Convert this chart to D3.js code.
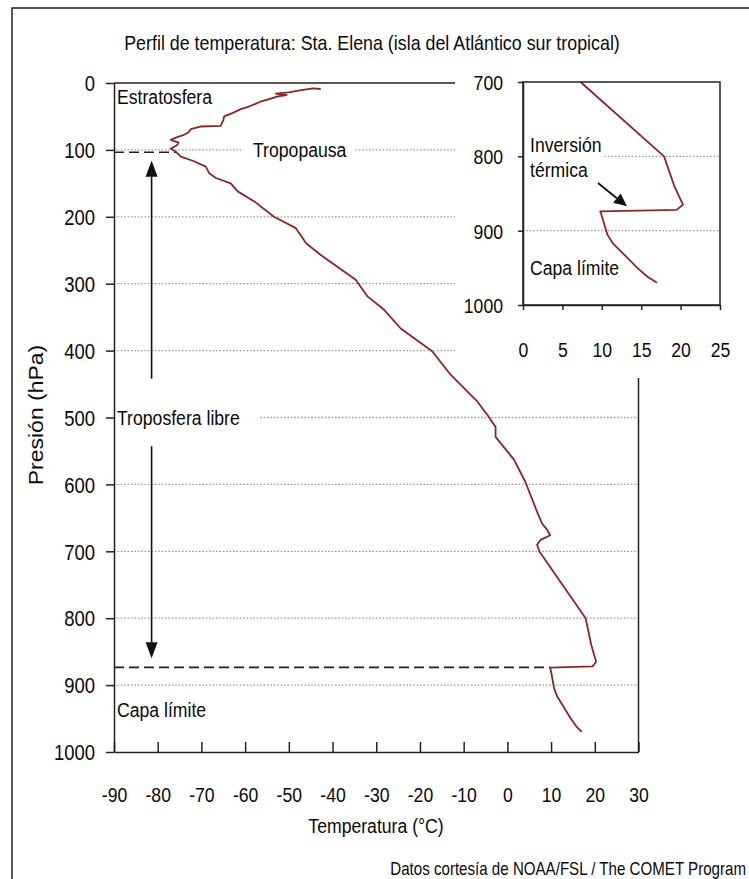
<!DOCTYPE html>
<html><head><meta charset="utf-8">
<script src="https://cdn.jsdelivr.net/npm/d3@7"></script>
<style>
body{margin:0;background:#fff}
text{font-family:"Liberation Sans",Arial,Helvetica,sans-serif;fill:#0a0a0a}
</style>
</head><body><svg id="c" width="749" height="879"></svg>
<script>
// ---- data ----
const pressure = [9, 8, 9.5, 11, 14, 16, 18, 20, 24, 28, 34, 36, 39, 45, 50, 56, 64, 65, 69, 74,
  78, 82, 85, 89, 93, 98, 103, 110, 117, 125, 135, 142, 150, 162, 177, 200, 217, 240, 257, 294,
  319, 339, 367, 401, 436, 476, 496, 514, 529, 563, 596, 641, 658, 668, 676, 683, 690, 700, 800, 840,
  865, 872, 874, 880, 905, 917, 935, 950, 962, 970];
const temperature = [-42.7, -44.5, -46, -47.5, -50, -53, -50.5, -52.5, -54.5, -56.5, -58.7, -59.5, -61, -62.9, -64.8, -65, -65.6, -70.1, -72.4, -73,
  -74.2, -76, -77, -75.2, -75.6, -77, -75.8, -74.7, -71.7, -69, -68.2, -66.7, -63.3, -61.7, -57.9, -53.4, -48.4, -46, -42.7, -34.7,
  -32, -28.2, -24.4, -17.2, -13, -6.9, -4.6, -2.7, -2.7, 1.5, 4.1, 6.8, 7.9, 9.1, 9.8, 7.6, 6.8, 7.3, 17.9, 19.2,
  20.3, 19.5, 9.8, 10, 10.7, 11.4, 13.1, 14.5, 15.8, 17];
const xTicks = [-90, -80, -70, -60, -50, -40, -30, -20, -10, 0, 10, 20, 30];
const yTicks = [0, 100, 200, 300, 400, 500, 600, 700, 800, 900, 1000];
const gridP = [100, 200, 300, 400, 500, 600, 700, 800, 900];
const insetXTicks = [0, 5, 10, 15, 20, 25];
const insetYTicks = [700, 800, 900, 1000];
const insetGridP = [800, 900];
const tropopause = {p: 103.6, t: -75.8};
const inversion = {p: 873.5, t: 9.8};
const arrowT = -81.4;

const profile = pressure.map((p, i) => ({p, t: temperature[i]}));
const fmt = d => String(d);

const svg = d3.select('#c');
svg.append('rect').attr('width', 749).attr('height', 879).attr('fill', '#fff');
svg.append('path').attr('d', 'M12,879V8H749').attr('fill', 'none').attr('stroke', '#222').attr('stroke-width', 1.5);

const SX = 0.84;
function label(g, x, y, s, o = {}) {
  const sx = o.sx || SX;
  const t = g.append('text')
    .attr('transform', `translate(${x},${y}) scale(${sx},1)`)
    .attr('font-size', o.size || 21)
    .attr('text-anchor', o.anchor || 'start')
    .text(s);
  t.node().__pos = {x, y, sx};
  return t;
}
function whiteBox(g, t, padL, padR, padT, padB) {
  const b = t.node().getBBox(); const q = t.node().__pos;
  g.insert('rect', () => t.node())
    .attr('x', q.x + b.x * q.sx - padL).attr('y', q.y + b.y - padT)
    .attr('width', b.width * q.sx + padL + padR).attr('height', b.height + padT + padB)
    .attr('fill', '#fff');
}

// ---- main chart ----
const x = d3.scaleLinear().domain([-90, 30]).range([114, 638.5]);
const y = d3.scaleLinear().domain([0, 1000]).range([83, 752]);

const main = svg.append('g');
main.selectAll('line.grid').data(gridP).join('line').attr('class', 'grid')
  .attr('x1', x(-90)).attr('x2', x(30)).attr('y1', d => y(d)).attr('y2', d => y(d))
  .attr('stroke', '#9a9a9a').attr('stroke-width', 1.3).attr('stroke-dasharray', '1.6,1.8');

const labels = main.append('g');
label(labels, 117, 104, 'Estratosfera');
const tropo = label(labels, 253, 157, 'Tropopausa');
whiteBox(labels, tropo, 12, 8, 0, 0);
const trl = label(labels, 117, 425, 'Troposfera libre');
whiteBox(labels, trl, 2, 19, 0, 0);
label(labels, 117, 717, 'Capa límite');

// dashed reference lines
[tropopause, inversion].forEach(r => {
  main.append('line').attr('x1', x(-90)).attr('x2', x(r.t)).attr('y1', y(r.p)).attr('y2', y(r.p))
    .attr('stroke', '#222').attr('stroke-width', 1.6).attr('stroke-dasharray', '10,5');
});

const line = d3.line().x(d => x(d.t)).y(d => y(d.p));
main.append('path').datum(profile).attr('d', line).attr('fill', 'none')
  .attr('stroke', '#8b2626').attr('stroke-width', 1.8).attr('stroke-linejoin', 'round');

// arrows (troposfera libre)
const ax = x(arrowT);
main.append('line').attr('x1', ax).attr('x2', ax).attr('y1', y(140)).attr('y2', y(442)).attr('stroke', '#111').attr('stroke-width', 1.6);
main.append('path').attr('d', `M${ax},${y(116)}L${ax - 6},${y(140)}L${ax + 6},${y(140)}Z`).attr('fill', '#111');
main.append('line').attr('x1', ax).attr('x2', ax).attr('y1', y(543)).attr('y2', y(836)).attr('stroke', '#111').attr('stroke-width', 1.6);
main.append('path').attr('d', `M${ax},${y(860)}L${ax - 6},${y(836)}L${ax + 6},${y(836)}Z`).attr('fill', '#111');

// frame + axes
main.append('path').attr('d', `M${x(-90)},${y(0)}H${x(30)}V${y(1000)}`).attr('fill', 'none').attr('stroke', '#222').attr('stroke-width', 1.5);
const gY = main.append('g').attr('transform', `translate(${x(-90)},0)`)
  .call(d3.axisLeft(y).tickValues(yTicks).tickFormat(fmt).tickSize(8).tickSizeOuter(0));
gY.selectAll('text').attr('font-size', 22).attr('x', -19 / SX).attr('dy', '0.35em').attr('transform', `scale(${SX},1)`);
const gX = main.append('g').attr('transform', `translate(0,${y(1000)})`)
  .call(d3.axisBottom(x).tickValues(xTicks).tickFormat(fmt).tickSize(-10).tickSizeOuter(0));
gX.selectAll('text').attr('font-size', 21).attr('y', 50).attr('dy', 0).attr('transform', `scale(${SX},1)`);
[gY, gX].forEach(g => { g.selectAll('path,line').attr('stroke', '#222').attr('stroke-width', 1.5); });

// titles
label(svg, 372, 50, 'Perfil de temperatura: Sta. Elena (isla del Atlántico sur tropical)', {anchor: 'middle', size: 21, sx: 0.85});
label(svg, 376, 833, 'Temperatura (°C)', {anchor: 'middle'});
svg.append('text').attr('transform', `translate(43,415) rotate(-90) scale(1,0.85)`)
  .attr('font-size', 23).attr('text-anchor', 'middle').text('Presión (hPa)');
label(svg, 746, 875, 'Datos cortesía de NOAA/FSL / The COMET Program', {anchor: 'end', size: 18});

// ---- inset ----
const inset = svg.append('g');
inset.append('rect').attr('x', 455).attr('y', 60).attr('width', 294).attr('height', 318).attr('fill', '#fff');
const xi = d3.scaleLinear().domain([0, 25]).range([523, 720]);
const yi = d3.scaleLinear().domain([700, 1000]).range([82, 305]);
inset.selectAll('line.grid').data(insetGridP).join('line').attr('class', 'grid')
  .attr('x1', xi(0)).attr('x2', xi(25)).attr('y1', d => yi(d)).attr('y2', d => yi(d))
  .attr('stroke', '#9a9a9a').attr('stroke-width', 1.3).attr('stroke-dasharray', '1.6,1.8');
const il = inset.append('g');
const inv = label(il, 530, 152, 'Inversión');
whiteBox(il, inv, 7, 3, 0, 3);
label(il, 530, 177, 'térmica');
label(il, 530, 275, 'Capa límite');
// arrow to inversion
const a0 = [598, 183], a1 = [xi(13.2), yi(874) - 5];
const dx = a1[0] - a0[0], dy = a1[1] - a0[1], L = Math.hypot(dx, dy), ux = dx / L, uy = dy / L;
const bx = a1[0] - ux * 13, by = a1[1] - uy * 13;
inset.append('line').attr('x1', a0[0]).attr('y1', a0[1]).attr('x2', bx).attr('y2', by).attr('stroke', '#111').attr('stroke-width', 1.8);
inset.append('path').attr('d', `M${a1[0]},${a1[1]}L${bx - uy * 6},${by + ux * 6}L${bx + uy * 6},${by - ux * 6}Z`).attr('fill', '#111');

const linei = d3.line().x(d => xi(d.t)).y(d => yi(d.p));
inset.append('path').datum(profile.filter(d => d.p >= 700)).attr('d', linei).attr('fill', 'none')
  .attr('stroke', '#8b2626').attr('stroke-width', 1.8).attr('stroke-linejoin', 'round');
inset.append('rect').attr('x', xi(0)).attr('y', yi(700)).attr('width', xi(25) - xi(0)).attr('height', yi(1000) - yi(700))
  .attr('fill', 'none').attr('stroke', '#222').attr('stroke-width', 1.5);
const giY = inset.append('g').attr('transform', `translate(${xi(0)},0)`)
  .call(d3.axisLeft(yi).tickValues(insetYTicks).tickFormat(fmt).tickSize(5).tickSizeOuter(0));
giY.selectAll('text').attr('font-size', 21).attr('x', -20 / SX).attr('dy', '0.35em').attr('transform', `scale(${SX},1)`);
const giX = inset.append('g').attr('transform', `translate(0,${yi(1000)})`)
  .call(d3.axisBottom(xi).tickValues(insetXTicks).tickFormat(fmt).tickSize(5).tickSizeOuter(0));
giX.selectAll('text').attr('font-size', 21).attr('y', 52).attr('dy', 0).attr('transform', `scale(${SX},1)`);
[giY, giX].forEach(g => { g.selectAll('path,line').attr('stroke', '#222').attr('stroke-width', 1.5); });
</script></body></html>
